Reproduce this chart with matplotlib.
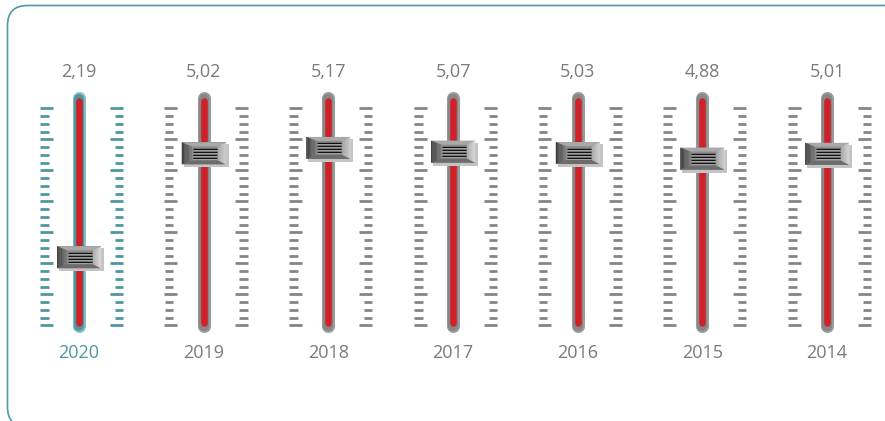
import numpy as np
import matplotlib
matplotlib.use("Agg")
import matplotlib.pyplot as plt
import matplotlib.transforms as mtransforms
from matplotlib.patches import Polygon, FancyBboxPatch

# data
years = ["2020", "2019", "2018", "2017", "2016", "2015", "2014"]
values = [2.19, 5.02, 5.17, 5.07, 5.03, 4.88, 5.01]
value_labels = ["2,19", "5,02", "5,17", "5,07", "5,03", "4,88", "5,01"]
highlight = "2020"

TEAL = "#4e97a1"
TEAL_LIGHT = "#8fc0c7"
GRAY_OUT = "#9c9c9c"
GRAY = "#878787"
TICK_GRAY = "#858585"
RED = "#cf2129"
TEXT_GRAY = "#7a7a7a"

plt.rcParams["font.family"] = ["Open Sans", "DejaVu Sans"]


def lerp_color(c1, c2, t):
    a = np.array(matplotlib.colors.to_rgb(c1))
    b = np.array(matplotlib.colors.to_rgb(c2))
    return tuple(a + (b - a) * t)


def bevel(ax, tf, x0, h0, x1, h1, c0, c1, n=8):
    # vertical slices between an outer edge (x0, +-h0) and an inner edge (x1, +-h1)
    for k in range(n):
        t0, t1 = k / n, (k + 1) / n
        xa, xb = x0 + (x1 - x0) * t0, x0 + (x1 - x0) * t1
        ha, hb = h0 + (h1 - h0) * t0, h0 + (h1 - h0) * t1
        pts = [(xa, -ha), (xa, ha), (xb, hb), (xb, -hb)]
        ax.add_patch(Polygon(pts, closed=True, transform=tf, lw=0,
                             facecolor=lerp_color(c0, c1, (t0 + t1) / 2), zorder=6))


def draw_handle(ax, x, y):
    ox, oy = ax.transData.transform((x, y))
    tf = mtransforms.Affine2D().translate(ox, oy)
    # shadow
    ax.add_patch(Polygon([(-20, -14), (-20, 9), (25, 9), (25, -14)], closed=True,
                         transform=tf, lw=0, facecolor="#c4c4c4", zorder=5))
    # body
    ax.add_patch(Polygon([(-22, -11), (-22, 11), (22, 11), (22, -11)], closed=True,
                         transform=tf, lw=0, facecolor="#8c8c8c", zorder=6))
    # top / bottom bevels
    ax.add_patch(Polygon([(-22, 11), (22, 11), (14, 7), (-12, 7)], closed=True,
                         transform=tf, lw=0, facecolor="#a9a9a9", zorder=6))
    ax.add_patch(Polygon([(-22, -11), (22, -11), (14, -7), (-12, -7)], closed=True,
                         transform=tf, lw=0, facecolor="#6c6c6c", zorder=6))
    # side bevels
    bevel(ax, tf, -22, 11, -12, 7, "#3a3a3a", "#7c7c7c")
    bevel(ax, tf, 22, 11, 14, 7, "#e2e2e2", "#b0b0b0")
    # grip lines
    for gy in (4.5, 1.5, -1.5, -4.5):
        ax.plot([-11, 13], [gy, gy], transform=tf, color="#111111", lw=1.0,
                solid_capstyle="butt", zorder=7)
        ax.plot([-11, 13], [gy - 1, gy - 1], transform=tf, color="#b5b5b5", lw=0.5,
                solid_capstyle="butt", zorder=7)


fig = plt.figure(figsize=(8.85, 4.21), dpi=100)
ax = fig.add_axes([0, 0, 1, 1])
ax.set_xlim(-0.634, 6.464)
ax.set_ylim(-2.27, 9.2)
ax.axis("off")

# pixels per data unit along x
o = ax.transData.transform((0, 0))
u = ax.transData.transform((1, 1))
xpx = u[0] - o[0]

tick_y = np.linspace(0.338, 6.25, 29)

for i, (year, val, lab) in enumerate(zip(years, values, value_labels)):
    hi = year == highlight
    tick_col = TEAL if hi else TICK_GRAY

    # scale ticks on both sides of the track
    for k, ty in enumerate(tick_y):
        long_tick = k % 4 == 0
        l0, l1 = (-39.5, -26.5) if long_tick else (-39.0, -30.5)
        r0, r1 = (31.0, 44.0) if long_tick else (35.5, 44.0)
        ax.plot([i + l0 / xpx, i + l1 / xpx], [ty, ty], color=tick_col, lw=2.0,
                solid_capstyle="butt", zorder=2)
        ax.plot([i + r0 / xpx, i + r1 / xpx], [ty, ty], color=tick_col, lw=2.0,
                solid_capstyle="butt", zorder=2)

    # track
    ax.plot([i, i], [0.305, 6.52], color=TEAL_LIGHT if hi else GRAY_OUT, lw=9.4,
            solid_capstyle="round", zorder=3)
    ax.plot([i, i], [0.33, 6.50], color=TEAL if hi else GRAY, lw=7.4,
            solid_capstyle="round", zorder=3)
    ax.plot([i, i], [0.387, 6.44], color=RED, lw=4.7,
            solid_capstyle="round", zorder=4)

    draw_handle(ax, i, val)

    ax.text(i, 7.25, lab, ha="center", va="center", fontsize=13, color=TEXT_GRAY)
    ax.text(i, -0.42, year, ha="center", va="center", fontsize=13,
            color=TEAL if hi else TEXT_GRAY)

# rounded frame, partly running off the right and bottom edges
frame = FancyBboxPatch((7.5, -6), 897.5, 421.5, boxstyle="round,pad=0,rounding_size=20",
                       transform=mtransforms.IdentityTransform(), fill=False,
                       edgecolor="#4f9aa3", lw=1.2)
fig.add_artist(frame)

fig.savefig("out.png", dpi=100)
